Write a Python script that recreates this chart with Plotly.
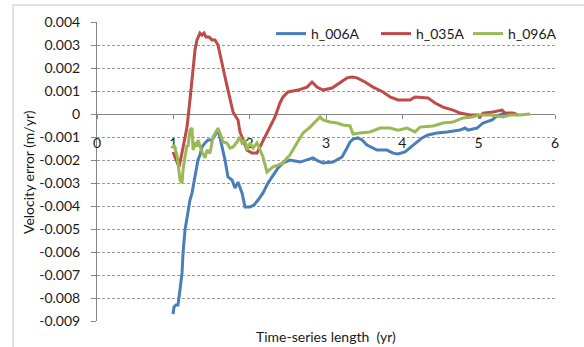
import plotly.graph_objects as go

# Time-series length (yr) and velocity error (m/yr) for each station
t_006A = [0.996, 1.009, 1.035, 1.061, 1.087, 1.114, 1.127, 1.153, 1.192, 1.218, 1.245, 1.284,
          1.323, 1.349, 1.376, 1.415, 1.454, 1.507, 1.546, 1.572, 1.598, 1.638, 1.677, 1.716,
          1.769, 1.808, 1.847, 1.900, 1.939, 2.004, 2.057, 2.109, 2.175, 2.240, 2.306, 2.371,
          2.437, 2.528, 2.660, 2.751, 2.830, 2.895, 2.961, 3.092, 3.210, 3.275, 3.315, 3.354,
          3.419, 3.472, 3.537, 3.668, 3.799, 3.878, 3.943, 4.035, 4.140, 4.258, 4.336, 4.454,
          4.585, 4.756, 4.821, 4.861, 4.978, 5.057, 5.175, 5.240, 5.306, 5.371]
v_006A = [-0.00870, -0.00839, -0.00830, -0.00830, -0.00765, -0.00691, -0.00604, -0.00504,
          -0.00426, -0.00374, -0.00343, -0.00274, -0.00200, -0.00178, -0.00143, -0.00126,
          -0.00113, -0.00113, -0.00091, -0.00078, -0.00083, -0.00143, -0.00200, -0.00274,
          -0.00287, -0.00322, -0.00296, -0.00343, -0.00404, -0.00404, -0.00396, -0.00374,
          -0.00343, -0.00300, -0.00265, -0.00235, -0.00213, -0.00200, -0.00209, -0.00200,
          -0.00191, -0.00204, -0.00213, -0.00209, -0.00187, -0.00148, -0.00122, -0.00109,
          -0.00104, -0.00113, -0.00135, -0.00157, -0.00157, -0.00170, -0.00174, -0.00165,
          -0.00135, -0.00104, -0.00091, -0.00083, -0.00078, -0.00070, -0.00061, -0.00070,
          -0.00061, -0.00039, -0.00026, -0.00009, 0.0, 0.0]

t_035A = [0.996, 1.035, 1.074, 1.100, 1.127, 1.179, 1.218, 1.258, 1.284, 1.310, 1.349, 1.376,
          1.402, 1.428, 1.467, 1.507, 1.546, 1.585, 1.611, 1.638, 1.677, 1.716, 1.742, 1.782,
          1.821, 1.847, 1.873, 1.913, 1.965, 2.031, 2.096, 2.135, 2.201, 2.267, 2.332, 2.397,
          2.437, 2.502, 2.633, 2.751, 2.817, 2.882, 2.961, 3.079, 3.184, 3.275, 3.341, 3.406,
          3.511, 3.616, 3.747, 3.839, 3.943, 4.101, 4.166, 4.336, 4.428, 4.533, 4.664, 4.756,
          4.887, 4.992, 5.018, 5.057, 5.188, 5.306, 5.345, 5.450, 5.516]
v_035A = [-0.00165, -0.00200, -0.00230, -0.00191, -0.00143, -0.00057, 0.00061, 0.00204,
          0.00278, 0.00322, 0.00352, 0.00343, 0.00352, 0.00335, 0.00335, 0.00322, 0.00322,
          0.00300, 0.00257, 0.00213, 0.00161, 0.00104, 0.00061, 0.00009, -0.00013, -0.00026,
          -0.00078, -0.00113, -0.00157, -0.00170, -0.00170, -0.00143, -0.00100, -0.00061,
          -0.00013, 0.00048, 0.00074, 0.00096, 0.00104, 0.00117, 0.00139, 0.00117, 0.00104,
          0.00113, 0.00135, 0.00157, 0.00161, 0.00157, 0.00139, 0.00117, 0.00096, 0.00074,
          0.00061, 0.00061, 0.00074, 0.00070, 0.00048, 0.00030, 0.00017, 0.00004, -0.00004,
          -0.00004, -0.00013, 0.00004, 0.00009, 0.00017, 0.00004, 0.00004, -0.00004]

t_096A = [0.983, 1.009, 1.048, 1.087, 1.114, 1.127, 1.153, 1.179, 1.192, 1.218, 1.245, 1.258,
          1.284, 1.310, 1.323, 1.376, 1.415, 1.441, 1.480, 1.520, 1.572, 1.585, 1.611, 1.651,
          1.703, 1.742, 1.782, 1.834, 1.873, 1.900, 1.939, 1.965, 2.004, 2.044, 2.096, 2.135,
          2.175, 2.227, 2.267, 2.306, 2.371, 2.437, 2.489, 2.528, 2.620, 2.699, 2.791, 2.882,
          2.922, 2.961, 3.052, 3.144, 3.223, 3.315, 3.354, 3.446, 3.577, 3.708, 3.839, 3.943,
          4.061, 4.166, 4.232, 4.402, 4.533, 4.664, 4.795, 4.913, 5.018, 5.149, 5.319, 5.411,
          5.542, 5.673]
v_096A = [-0.00148, -0.00135, -0.00178, -0.00287, -0.00300, -0.00243, -0.00187, -0.00135,
          -0.00143, -0.00070, -0.00061, -0.00157, -0.00122, -0.00143, -0.00113, -0.00165,
          -0.00191, -0.00157, -0.00170, -0.00100, -0.00070, -0.00061, -0.00083, -0.00122,
          -0.00126, -0.00148, -0.00143, -0.00122, -0.00100, -0.00126, -0.00113, -0.00157,
          -0.00126, -0.00148, -0.00126, -0.00157, -0.00187, -0.00252, -0.00239, -0.00230,
          -0.00222, -0.00213, -0.00191, -0.00178, -0.00126, -0.00083, -0.00057, -0.00026,
          -0.00013, -0.00026, -0.00035, -0.00039, -0.00048, -0.00052, -0.00087, -0.00083,
          -0.00078, -0.00061, -0.00061, -0.00070, -0.00061, -0.00078, -0.00057, -0.00052,
          -0.00039, -0.00035, -0.00017, -0.00013, -0.00004, -0.00004, -0.00013, -0.00004,
          -0.00004, 0.0]

series_names = ["h_006A", "h_035A", "h_096A"]
series_colors = ["#4A7EBB", "#BE4B48", "#98B954"]

x_ticks = [0, 1, 2, 3, 4, 5, 6]
x_tick_labels = ["0", "1", "2", "3", "4", "5", "6"]
y_ticks = [0.004, 0.003, 0.002, 0.001, 0, -0.001, -0.002, -0.003, -0.004,
           -0.005, -0.006, -0.007, -0.008, -0.009]
y_tick_labels = ["0.004", "0.003", "0.002", "0.001", "0", "-0.001", "-0.002", "-0.003",
                 "-0.004", "-0.005", "-0.006", "-0.007", "-0.008", "-0.009"]

x_title = "Time-series length  (yr)"
y_title = "Velocity error (m/yr)"

# figure geometry (pixels)
W, H = 584, 347
L, R, T, B = 97, 29, 22, 26
PW, PH = W - L - R, H - T - B


def fx(px):
    return (px - L) / PW


def fy(py):
    return (H - B - py) / PH


FONT = "Lato"
TEXT = "#1a1a1a"
AXIS = "#868686"
GRID = "#9a9a9a"

y_range = [min(y_ticks), max(y_ticks)]
x_range = [min(x_ticks), max(x_ticks)]

fig = go.Figure()
legend_ids = ["legend", "legend2", "legend3"]
for t, v, name, color, lg in zip([t_006A, t_035A, t_096A], [v_006A, v_035A, v_096A],
                                 series_names, series_colors, legend_ids):
    fig.add_trace(go.Scatter(x=t, y=v, mode="lines", name=name, legend=lg,
                             line=dict(color=color, width=3)))

legend_style = dict(orientation="h", yanchor="middle", xanchor="left",
                    bgcolor="rgba(0,0,0,0)", borderwidth=0,
                    font=dict(family=FONT, size=14, color=TEXT))

# position of y = 0 within the plotting area, where the x axis crosses
zero_pos = (0 - y_range[0]) / (y_range[1] - y_range[0])

fig.update_layout(
    width=W, height=H,
    margin=dict(l=L, r=R, t=T, b=B, pad=0),
    paper_bgcolor="white", plot_bgcolor="white",
    font=dict(family=FONT, size=14, color=TEXT),
    showlegend=True,
    legend=dict(x=fx(271), y=fy(34), **legend_style),
    legend2=dict(x=fx(376), y=fy(34), **legend_style),
    legend3=dict(x=fx(468), y=fy(34), **legend_style),
    xaxis=dict(range=x_range, tickmode="array", tickvals=x_ticks, ticktext=x_tick_labels,
               anchor="free", position=zero_pos, showline=True, linecolor=AXIS, linewidth=1,
               ticks="outside", ticklen=4, tickcolor=AXIS, showgrid=False, zeroline=False,
               ticklabelstandoff=12, layer="below traces",
               tickfont=dict(family=FONT, size=14, color=TEXT)),
    yaxis=dict(range=y_range, tickmode="array", tickvals=y_ticks, ticktext=y_tick_labels,
               showline=True, linecolor=AXIS, linewidth=1, ticks="outside", ticklen=5,
               tickcolor=AXIS, showgrid=True, gridcolor=GRID, griddash="3px,2px",
               gridwidth=1, zeroline=False, ticklabelstandoff=8, layer="below traces",
               tickfont=dict(family=FONT, size=14, color=TEXT)),
    annotations=[
        dict(text=x_title, xref="paper", yref="paper", x=0.5, y=fy(336),
             xanchor="center", yanchor="middle", showarrow=False,
             font=dict(family=FONT, size=14, color=TEXT)),
        dict(text=y_title, xref="paper", yref="paper", x=fx(28), y=fy(172),
             xanchor="center", yanchor="middle", showarrow=False, textangle=-90,
             font=dict(family=FONT, size=14, color=TEXT)),
    ],
    shapes=[
        dict(type="rect", xref="paper", yref="paper", x0=fx(13), y0=fy(400),
             x1=fx(640), y1=fy(5), line=dict(color="#c4c4c4", width=1),
             fillcolor="rgba(0,0,0,0)", layer="below"),
    ],
)

fig.write_html("out.html")
